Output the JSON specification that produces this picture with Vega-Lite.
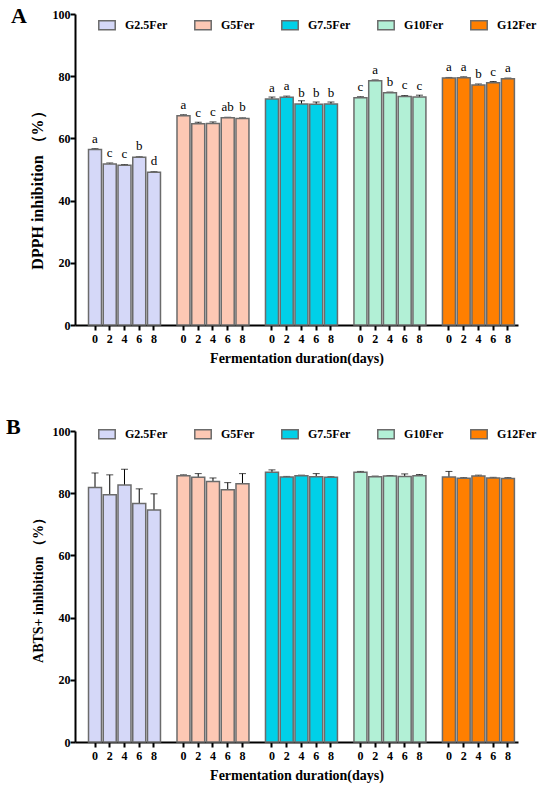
{
  "$schema": "https://vega.github.io/schema/vega-lite/v6.json",
  "padding": {"left": 6, "top": 5, "right": 5, "bottom": 5},
  "datasets": {
    "dpph": [
      {"group": "G2.5Fer", "day": "0", "bar": "G2.5Fer 0", "value": 56.4, "err": 0.3, "letter": "a"},
      {"group": "G2.5Fer", "day": "2", "bar": "G2.5Fer 2", "value": 51.8, "err": 0.3, "letter": "c"},
      {"group": "G2.5Fer", "day": "4", "bar": "G2.5Fer 4", "value": 51.4, "err": 0.2, "letter": "c"},
      {"group": "G2.5Fer", "day": "6", "bar": "G2.5Fer 6", "value": 53.9, "err": 0.2, "letter": "b"},
      {"group": "G2.5Fer", "day": "8", "bar": "G2.5Fer 8", "value": 49.1, "err": 0.2, "letter": "d"},
      {"group": "G5Fer", "day": "0", "bar": "G5Fer 0", "value": 67.3, "err": 0.3, "letter": "a"},
      {"group": "G5Fer", "day": "2", "bar": "G5Fer 2", "value": 64.7, "err": 0.5, "letter": "c"},
      {"group": "G5Fer", "day": "4", "bar": "G5Fer 4", "value": 64.8, "err": 0.5, "letter": "c"},
      {"group": "G5Fer", "day": "6", "bar": "G5Fer 6", "value": 66.6, "err": 0.2, "letter": "ab"},
      {"group": "G5Fer", "day": "8", "bar": "G5Fer 8", "value": 66.4, "err": 0.2, "letter": "b"},
      {"group": "G7.5Fer", "day": "0", "bar": "G7.5Fer 0", "value": 72.7, "err": 0.6, "letter": "a"},
      {"group": "G7.5Fer", "day": "2", "bar": "G7.5Fer 2", "value": 73.2, "err": 0.4, "letter": "a"},
      {"group": "G7.5Fer", "day": "4", "bar": "G7.5Fer 4", "value": 71.1, "err": 1.0, "letter": "b"},
      {"group": "G7.5Fer", "day": "6", "bar": "G7.5Fer 6", "value": 71.0, "err": 0.7, "letter": "b"},
      {"group": "G7.5Fer", "day": "8", "bar": "G7.5Fer 8", "value": 71.1, "err": 0.6, "letter": "b"},
      {"group": "G10Fer", "day": "0", "bar": "G10Fer 0", "value": 73.1, "err": 0.3, "letter": "c"},
      {"group": "G10Fer", "day": "2", "bar": "G10Fer 2", "value": 78.5, "err": 0.3, "letter": "a"},
      {"group": "G10Fer", "day": "4", "bar": "G10Fer 4", "value": 74.7, "err": 0.2, "letter": "b"},
      {"group": "G10Fer", "day": "6", "bar": "G10Fer 6", "value": 73.5, "err": 0.3, "letter": "c"},
      {"group": "G10Fer", "day": "8", "bar": "G10Fer 8", "value": 73.3, "err": 0.6, "letter": "c"},
      {"group": "G12Fer", "day": "0", "bar": "G12Fer 0", "value": 79.4, "err": 0.2, "letter": "a"},
      {"group": "G12Fer", "day": "2", "bar": "G12Fer 2", "value": 79.5, "err": 0.3, "letter": "a"},
      {"group": "G12Fer", "day": "4", "bar": "G12Fer 4", "value": 77.2, "err": 0.3, "letter": "b"},
      {"group": "G12Fer", "day": "6", "bar": "G12Fer 6", "value": 77.9, "err": 0.4, "letter": "c"},
      {"group": "G12Fer", "day": "8", "bar": "G12Fer 8", "value": 79.2, "err": 0.2, "letter": "a"}
    ],
    "abts": [
      {"group": "G2.5Fer", "day": "0", "bar": "G2.5Fer 0", "value": 81.8, "err": 4.7},
      {"group": "G2.5Fer", "day": "2", "bar": "G2.5Fer 2", "value": 79.5, "err": 6.4},
      {"group": "G2.5Fer", "day": "4", "bar": "G2.5Fer 4", "value": 82.6, "err": 5.1},
      {"group": "G2.5Fer", "day": "6", "bar": "G2.5Fer 6", "value": 76.7, "err": 4.7},
      {"group": "G2.5Fer", "day": "8", "bar": "G2.5Fer 8", "value": 74.6, "err": 5.2},
      {"group": "G5Fer", "day": "0", "bar": "G5Fer 0", "value": 85.6, "err": 0.3},
      {"group": "G5Fer", "day": "2", "bar": "G5Fer 2", "value": 85.1, "err": 1.2},
      {"group": "G5Fer", "day": "4", "bar": "G5Fer 4", "value": 83.8, "err": 1.1},
      {"group": "G5Fer", "day": "6", "bar": "G5Fer 6", "value": 81.1, "err": 2.3},
      {"group": "G5Fer", "day": "8", "bar": "G5Fer 8", "value": 83.0, "err": 3.3},
      {"group": "G7.5Fer", "day": "0", "bar": "G7.5Fer 0", "value": 86.7, "err": 0.8},
      {"group": "G7.5Fer", "day": "2", "bar": "G7.5Fer 2", "value": 85.2, "err": 0.2},
      {"group": "G7.5Fer", "day": "4", "bar": "G7.5Fer 4", "value": 85.6, "err": 0.2},
      {"group": "G7.5Fer", "day": "6", "bar": "G7.5Fer 6", "value": 85.3, "err": 1.0},
      {"group": "G7.5Fer", "day": "8", "bar": "G7.5Fer 8", "value": 85.1, "err": 0.2},
      {"group": "G10Fer", "day": "0", "bar": "G10Fer 0", "value": 86.7, "err": 0.3},
      {"group": "G10Fer", "day": "2", "bar": "G10Fer 2", "value": 85.3, "err": 0.2},
      {"group": "G10Fer", "day": "4", "bar": "G10Fer 4", "value": 85.5, "err": 0.2},
      {"group": "G10Fer", "day": "6", "bar": "G10Fer 6", "value": 85.4, "err": 0.8},
      {"group": "G10Fer", "day": "8", "bar": "G10Fer 8", "value": 85.6, "err": 0.4},
      {"group": "G12Fer", "day": "0", "bar": "G12Fer 0", "value": 85.2, "err": 1.8},
      {"group": "G12Fer", "day": "2", "bar": "G12Fer 2", "value": 84.8, "err": 0.2},
      {"group": "G12Fer", "day": "4", "bar": "G12Fer 4", "value": 85.5, "err": 0.3},
      {"group": "G12Fer", "day": "6", "bar": "G12Fer 6", "value": 84.9, "err": 0.2},
      {"group": "G12Fer", "day": "8", "bar": "G12Fer 8", "value": 84.7, "err": 0.3}
    ]
  },
  "vconcat": [
    {
      "title": {"text": "A", "anchor": "start", "frame": "bounds", "fontSize": 22, "offset": -20, "dx": -18},
      "width": 443,
      "height": 311,
      "data": {"name": "dpph"},
      "encoding": {
        "x": {
          "field": "bar",
          "type": "nominal",
          "title": "Fermentation duration(days)",
          "scale": {
            "domain": ["G2.5Fer 0", "G2.5Fer 2", "G2.5Fer 4", "G2.5Fer 6", "G2.5Fer 8", "gap1",
                       "G5Fer 0", "G5Fer 2", "G5Fer 4", "G5Fer 6", "G5Fer 8", "gap2",
                       "G7.5Fer 0", "G7.5Fer 2", "G7.5Fer 4", "G7.5Fer 6", "G7.5Fer 8", "gap3",
                       "G10Fer 0", "G10Fer 2", "G10Fer 4", "G10Fer 6", "G10Fer 8", "gap4",
                       "G12Fer 0", "G12Fer 2", "G12Fer 4", "G12Fer 6", "G12Fer 8"],
            "paddingInner": 0.12,
            "paddingOuter": 0.58,
            "align": 0.79
          },
          "axis": {
            "labelExpr": "indexof(datum.label, 'gap') == 0 ? '' : split(datum.label, ' ')[1]",
            "tickOpacity": {"condition": {"test": "indexof(datum.value, 'gap') == 0", "value": 0}, "value": 1}
          }
        },
        "y": {
          "field": "value",
          "type": "quantitative",
          "title": "DPPH inhibition （%）",
          "scale": {"domain": [0, 100]},
          "axis": {"values": [0, 20, 40, 60, 80, 100], "titleFontSize": 16, "titleY": 172}
        }
      },
      "layer": [
        {
          "mark": {"type": "errorbar", "color": "black", "ticks": {"size": 7, "thickness": 1}, "thickness": 1},
          "encoding": {"yError": {"field": "err"}}
        },
        {
          "mark": {"type": "bar", "stroke": "#6b6b6b", "strokeWidth": 1.5},
          "encoding": {
            "fill": {
              "field": "group",
              "type": "nominal",
              "scale": {
                "domain": ["G2.5Fer", "G5Fer", "G7.5Fer", "G10Fer", "G12Fer"],
                "range": ["#d5d8f8", "#fdc8b4", "#00d0e8", "#b2f0d6", "#ff7f00"]
              },
              "legend": {"orient": "none", "legendX": 23, "legendY": 2}
            }
          }
        },
        {
          "mark": {"type": "text", "dy": -11, "fontSize": 13, "color": "black"},
          "encoding": {"text": {"field": "letter"}}
        }
      ]
    },
    {
      "title": {"text": "B", "anchor": "start", "frame": "bounds", "fontSize": 22, "offset": -14, "dx": -25},
      "width": 443,
      "height": 311,
      "data": {"name": "abts"},
      "encoding": {
        "x": {
          "field": "bar",
          "type": "nominal",
          "title": "Fermentation duration(days)",
          "scale": {
            "domain": ["G2.5Fer 0", "G2.5Fer 2", "G2.5Fer 4", "G2.5Fer 6", "G2.5Fer 8", "gap1",
                       "G5Fer 0", "G5Fer 2", "G5Fer 4", "G5Fer 6", "G5Fer 8", "gap2",
                       "G7.5Fer 0", "G7.5Fer 2", "G7.5Fer 4", "G7.5Fer 6", "G7.5Fer 8", "gap3",
                       "G10Fer 0", "G10Fer 2", "G10Fer 4", "G10Fer 6", "G10Fer 8", "gap4",
                       "G12Fer 0", "G12Fer 2", "G12Fer 4", "G12Fer 6", "G12Fer 8"],
            "paddingInner": 0.12,
            "paddingOuter": 0.58,
            "align": 0.79
          },
          "axis": {
            "labelExpr": "indexof(datum.label, 'gap') == 0 ? '' : split(datum.label, ' ')[1]",
            "tickOpacity": {"condition": {"test": "indexof(datum.value, 'gap') == 0", "value": 0}, "value": 1}
          }
        },
        "y": {
          "field": "value",
          "type": "quantitative",
          "title": "ABTS+ inhibition （%）",
          "scale": {"domain": [0, 100]},
          "axis": {"values": [0, 20, 40, 60, 80, 100], "titleFontSize": 14}
        }
      },
      "layer": [
        {
          "mark": {"type": "errorbar", "color": "black", "ticks": {"size": 7, "thickness": 1}, "thickness": 1},
          "encoding": {"yError": {"field": "err"}}
        },
        {
          "mark": {"type": "bar", "stroke": "#6b6b6b", "strokeWidth": 1.5},
          "encoding": {
            "fill": {
              "field": "group",
              "type": "nominal",
              "scale": {
                "domain": ["G2.5Fer", "G5Fer", "G7.5Fer", "G10Fer", "G12Fer"],
                "range": ["#d5d8f8", "#fdc8b4", "#00d0e8", "#b2f0d6", "#ff7f00"]
              },
              "legend": {"orient": "none", "legendX": 23, "legendY": -6}
            }
          }
        }
      ]
    }
  ],
  "spacing": 51,
  "resolve": {"legend": {"fill": "independent"}},
  "config": {
    "font": "Liberation Serif",
    "view": {"stroke": null},
    "title": {"font": "Liberation Serif", "fontWeight": "bold", "color": "black"},
    "text": {"font": "Liberation Serif"},
    "axis": {
      "grid": false,
      "domainColor": "black",
      "domainWidth": 2,
      "tickColor": "black",
      "tickWidth": 2,
      "tickSize": 5,
      "labelFont": "Liberation Serif",
      "labelFontWeight": "bold",
      "labelFontSize": 12,
      "labelColor": "black",
      "titleFont": "Liberation Serif",
      "titleFontWeight": "bold",
      "titleFontSize": 13,
      "titleColor": "black"
    },
    "axisX": {"labelAngle": 0, "labelPadding": 3, "titlePadding": 7, "titleFontSize": 14},
    "axisY": {"labelPadding": 0, "titlePadding": 7},
    "legend": {
      "title": null,
      "direction": "horizontal",
      "symbolType": "M-1,-0.55H1V0.55H-1Z",
      "symbolSize": 270,
      "symbolStrokeColor": "#6b6b6b",
      "symbolStrokeWidth": 1.5,
      "symbolOpacity": 1,
      "labelFont": "Liberation Serif",
      "labelFontWeight": "bold",
      "labelFontSize": 12,
      "labelColor": "black",
      "labelOffset": 9,
      "columnPadding": 23
    }
  }
}
